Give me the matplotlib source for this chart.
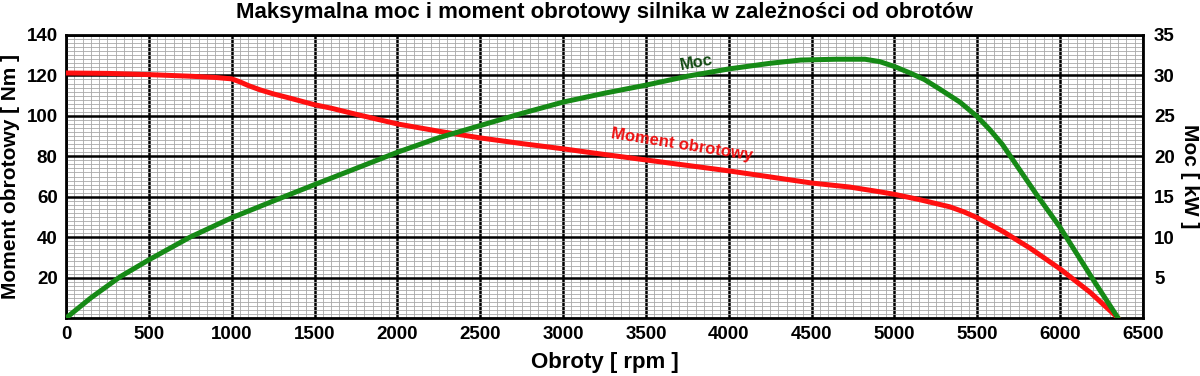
"""
Maksymalna moc i moment obrotowy silnika w zależności od obrotów.
"""

import matplotlib.pyplot as plt
import numpy as np

# -----------------------------
# Dane
# -----------------------------
obroty_m = [0, 250, 500, 750, 900, 1000, 1050, 1100, 1170, 1250, 1350, 1500,
            1600, 1750, 2000, 2250, 2500, 2750, 3000, 3250, 3500, 3750, 4000,
            4250, 4500, 4730, 4900, 5000, 5150, 5335, 5420, 5500, 5656, 5818,
            6000, 6180, 6350]
moment = [121.2, 121, 120.4, 119.6, 119, 118.3, 116.8, 115, 112.9, 110.9, 108.8,
          105.5, 103.8, 100.8, 96.0, 92.4, 89.1, 86.3, 83.7, 80.9, 78.2, 75.5,
          72.8, 69.8, 66.8, 64.8, 62.6, 61.2, 58.6, 55.0, 52.5, 49.6, 42.8, 34.6,
          24.3, 12.8, 0]

obroty_p = [0, 150, 326, 500, 748, 1000, 1291, 1500, 1625, 1800, 2000, 2250,
            2500, 2750, 3000, 3250, 3500, 3750, 4000, 4250, 4434, 4650, 4822,
            4912, 5000, 5094, 5180, 5274, 5395, 5500, 5575, 5650, 5860, 6000,
            6210, 6350]
moc = [0, 2.5, 5.1, 7.2, 10.0, 12.4, 14.8, 16.5, 17.5, 18.9, 20.5, 22.3, 23.8,
       25.3, 26.7, 27.8, 28.8, 29.9, 30.8, 31.5, 31.9, 32.0, 32.0, 31.7, 31.1,
       30.3, 29.5, 28.3, 26.7, 24.9, 23.3, 21.5, 15.2, 11.2, 4.4, 0]

xticks = list(range(0, 6501, 500))
yticks_m = list(range(20, 141, 20))
yticks_p = list(range(5, 36, 5))

plt.rcParams['font.family'] = ['Liberation Sans', 'DejaVu Sans']
plt.rcParams['font.weight'] = 'bold'

fig = plt.figure(figsize=(12, 3.76), dpi=100)
ax = fig.add_axes([0.055, 0.154, 0.8975, 0.753])

# -----------------------------
# Siatka milimetrowa
# -----------------------------
ax.set_xlim(0, 6500)
ax.set_ylim(0, 140)
ax.set_xticks(xticks)
ax.set_yticks(yticks_m)
ax.set_xticks(np.arange(0, 6501, 50), minor=True)
ax.set_yticks(np.arange(0, 141, 2), minor=True)
ax.grid(which='minor', color='#a8a8a8', linewidth=0.6)
ax.grid(which='major', color='black', linewidth=1.8)
ax.set_axisbelow(True)
ax.tick_params(which='both', length=0, labelsize=13.5, pad=6)
for s in ax.spines.values():
    s.set_linewidth(2)

ax.plot(obroty_m, moment, color='#ff1010', linewidth=3.6, zorder=5,
        solid_joinstyle='round', solid_capstyle='round')

ax2 = ax.twinx()
ax2.set_ylim(0, 35)
ax2.set_yticks(yticks_p)
ax2.tick_params(length=0, labelsize=13.5, pad=8)
ax2.plot(obroty_p, moc, color='#168a16', linewidth=3.6, zorder=4,
         solid_joinstyle='round', solid_capstyle='round')
for s in ax2.spines.values():
    s.set_visible(False)

# -----------------------------
# Opisy
# -----------------------------
ax2.text(3808, 31.6, 'Moc', color='#124a12', fontsize=12, fontweight='bold',
         rotation=10, ha='center', va='center')
ax.text(3718, 85.6, 'Moment obrotowy', color='#ee1111', fontsize=12,
        fontweight='bold', rotation=-9, ha='center', va='center')

ax.set_xlabel('Obroty [ rpm ]', fontsize=16, fontweight='bold', labelpad=6)
ax.set_ylabel('Moment obrotowy [ Nm ]', fontsize=15, fontweight='bold', labelpad=5)
# Etykieta prawej osi ustawiona ręcznie, żeby nie wychodziła poza obraz
fig.text(0.9915, 0.5305, 'Moc [ kW ]', fontsize=15, fontweight='bold',
         rotation=-90, ha='center', va='center')
ax.set_title('Maksymalna moc i moment obrotowy silnika w zależności od obrotów',
             fontsize=16, fontweight='bold', pad=12)

fig.savefig('out.png', dpi=100)
